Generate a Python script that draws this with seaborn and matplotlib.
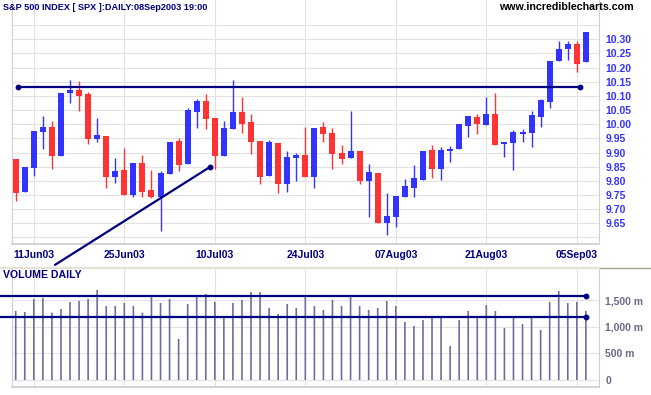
import numpy as np
import pandas as pd
import matplotlib
matplotlib.use("Agg")
import matplotlib.pyplot as plt
import seaborn as sns
from matplotlib.lines import Line2D

sns.set_style("white")
plt.rcParams['font.family'] = ['Liberation Sans', 'DejaVu Sans']

# daily OHLC (index / 100) and volume (millions), 09Jun03 - 08Sep03
opens = [9.877, 9.762, 9.847, 9.974, 9.989, 9.889, 10.109, 10.121, 10.107, 9.947,
         9.959, 9.815, 9.837, 9.751, 9.862, 9.767, 9.744, 9.824, 9.940, 9.860,
         10.043, 10.082, 10.022, 9.889, 9.984, 10.042, 10.008, 9.941, 9.818, 9.934,
         9.787, 9.880, 9.890, 9.815, 9.989, 9.968, 9.897, 9.880, 9.906, 9.801,
         9.828, 9.652, 9.671, 9.742, 9.776, 9.803, 9.909, 9.841, 9.904, 9.911,
         9.995, 10.027, 9.997, 10.035, 9.929, 9.935, 9.967, 9.968, 10.027, 10.080,
         10.222, 10.265, 10.284, 10.219]
closes = [9.758, 9.850, 9.976, 9.989, 9.886, 10.110, 10.121, 10.101, 9.947, 9.961,
          9.815, 9.836, 9.751, 9.864, 9.761, 9.744, 9.827, 9.937, 9.857, 10.050,
          10.083, 10.020, 9.886, 9.986, 10.042, 10.002, 9.938, 9.815, 9.938, 9.787,
          9.884, 9.891, 9.812, 9.986, 9.964, 9.893, 9.876, 9.907, 9.801, 9.830,
          9.652, 9.675, 9.748, 9.781, 9.809, 9.906, 9.841, 9.909, 9.911, 10.002,
          10.030, 10.002, 10.035, 9.928, 9.936, 9.971, 9.973, 10.032, 10.086, 10.224,
          10.267, 10.282, 10.214, 10.325]
highs = [9.877, 9.850, 9.976, 10.029, 10.013, 10.110, 10.156, 10.153, 10.114, 10.022,
         9.959, 9.881, 9.916, 9.864, 9.891, 9.838, 9.835, 9.937, 9.951, 10.056,
         10.089, 10.107, 10.022, 10.012, 10.156, 10.096, 10.036, 9.941, 9.944, 9.934,
         9.906, 9.900, 9.990, 9.986, 10.009, 9.988, 9.927, 10.048, 9.906, 9.860,
         9.828, 9.757, 9.748, 9.807, 9.856, 9.906, 9.927, 9.921, 9.923, 10.002,
         10.030, 10.036, 10.096, 10.110, 9.936, 9.980, 9.983, 10.045, 10.089, 10.224,
         10.294, 10.294, 10.294, 10.325]
lows = [9.727, 9.762, 9.818, 9.914, 9.843, 9.889, 10.074, 10.048, 9.931, 9.936,
        9.776, 9.794, 9.751, 9.742, 9.744, 9.741, 9.624, 9.824, 9.836, 9.860,
        9.988, 9.984, 9.841, 9.889, 9.984, 9.970, 9.896, 9.787, 9.818, 9.758,
        9.762, 9.801, 9.812, 9.776, 9.938, 9.843, 9.860, 9.880, 9.790, 9.671,
        9.652, 9.610, 9.638, 9.742, 9.744, 9.803, 9.811, 9.804, 9.868, 9.911,
        9.956, 9.967, 9.997, 9.928, 9.883, 9.837, 9.936, 9.918, 9.990, 10.059,
        10.222, 10.226, 10.186, 10.219]
volume = [1294, 1275, 1519, 1538, 1263, 1331, 1463, 1481, 1519, 1688,
          1388, 1388, 1444, 1388, 1263, 1575, 1444, 1519, 769, 1425,
          1575, 1613, 1463, 1200, 1444, 1500, 1650, 1650, 1350, 1238,
          1425, 1350, 1575, 1388, 1313, 1500, 1388, 1594, 1388, 1313,
          1350, 1481, 1388, 1088, 1013, 1125, 1200, 1181, 638, 1125,
          1294, 1200, 1406, 1294, 975, 1181, 1050, 1181, 938, 1463,
          1669, 1444, 1463, 1294]

tick_dates = ["2003-06-11", "2003-06-25", "2003-07-10", "2003-07-24",
              "2003-08-07", "2003-08-21", "2003-09-05"]
tick_labels = ["11Jun03", "25Jun03", "10Jul03", "24Jul03", "07Aug03", "21Aug03", "05Sep03"]
price_ticks = [9.65, 9.70, 9.75, 9.80, 9.85, 9.90, 9.95, 10.00,
               10.05, 10.10, 10.15, 10.20, 10.25, 10.30]
vol_ticks = [0, 500, 1000, 1500]
vol_tick_labels = ["0", "500 m", "1,000 m", "1,500 m"]

# drawn lines
resistance = 10.132
trend_x = [4.34, 21.47]
trend_y = [9.503, 9.849]
vol_levels = [1581, 1181]

dates = pd.bdate_range("2003-06-09", "2003-09-08")
dates = dates[~dates.isin(pd.to_datetime(["2003-07-04", "2003-09-01"]))]
df = pd.DataFrame({"date": dates, "open": opens, "high": highs, "low": lows,
                   "close": closes, "volume": volume})
df["i"] = np.arange(len(df))
tick_pos = [int(df.index[df["date"] == pd.Timestamp(d)][0]) for d in tick_dates]

BLUE = "#3333ff"
RED = "#ff3333"
NAVY = "#000080"
GRID = "#e2e2e2"
SPINE = "#d0d0d0"
VOLC = "#6b6b9e"

W, H = 651, 395
fig = plt.figure(figsize=(W / 100, H / 100), dpi=100)
fig.patch.set_facecolor("white")

# price panel
ax = fig.add_axes([12 / W, (H - 244) / H, 587 / W, 244 / H])
xlim = (-0.41, 64.45)
ax.set_xlim(*xlim)
ax.set_ylim(9.5767, 10.4389)

up = df["close"] >= df["open"]
colors = np.where(up, BLUE, RED)
ax.vlines(df["i"], df["low"], df["high"], colors=colors, lw=1.0, zorder=3)
body_lo = df[["open", "close"]].min(axis=1)
body_h = (df["close"] - df["open"]).abs().clip(lower=0.005)
ax.bar(df["i"], body_h, bottom=body_lo, width=0.66, color=colors, lw=0, zorder=4)

ax.plot([0.3, 62.4], [resistance, resistance], color=NAVY, lw=1.6,
        marker="o", ms=3.2, zorder=5)
ax.plot(trend_x, trend_y, color=NAVY, lw=1.6, zorder=5, clip_on=False)
ax.plot(trend_x[1], trend_y[1], "o", color=NAVY, ms=3.2, zorder=5)

grid_y = [9.60] + price_ticks + [10.35]
ax.set_yticks(grid_y)
ax.set_yticklabels([""] + [f"{v:.2f}" for v in price_ticks] + [""])
ax.set_xticks(tick_pos)
ax.set_xticklabels(tick_labels)
ax.yaxis.tick_right()
ax.grid(True, color=GRID, lw=0.8)
ax.set_axisbelow(True)
ax.tick_params(axis="y", length=0, pad=4.5, labelsize=7.5, labelcolor=BLUE)
ax.tick_params(axis="x", length=0, pad=4.5, labelsize=7.5, labelcolor=NAVY)
for lab in ax.get_xticklabels() + ax.get_yticklabels():
    lab.set_fontweight("bold")
ax.spines["top"].set_visible(False)
for s in ["left", "right"]:
    ax.spines[s].set_color(SPINE)
    ax.spines[s].set_linewidth(0.8)
ax.spines["bottom"].set_color(SPINE)
ax.spines["bottom"].set_linewidth(1.3)

# volume panel
ax2 = fig.add_axes([12 / W, 8.3 / H, 587 / W, 118.7 / H])
sns.barplot(data=df, x="i", y="volume", native_scale=True, width=0.18,
            color=VOLC, saturation=1, errorbar=None, linewidth=0, ax=ax2)
for p in ax2.patches:
    p.set_snap(False)
ax2.set_xlim(*xlim)
ax2.set_ylim(-125.6, 2100)
for lvl in vol_levels:
    ax2.plot([-1.74, 63], [lvl, lvl], color=NAVY, lw=1.6, zorder=5, clip_on=False)
    ax2.plot(63, lvl, "o", color=NAVY, ms=3.2, zorder=5)
ax2.set_xticks(tick_pos)
ax2.set_xticklabels([])
ax2.set_xlabel("")
ax2.set_ylabel("")
ax2.set_yticks(vol_ticks)
ax2.set_yticklabels(vol_tick_labels)
ax2.yaxis.tick_right()
ax2.grid(True, color=GRID, lw=0.8)
ax2.set_axisbelow(True)
ax2.tick_params(axis="both", length=0, pad=4.5, labelsize=7.5, labelcolor="#6a6a88")
for lab in ax2.get_yticklabels():
    lab.set_fontweight("bold")
ax2.spines["top"].set_visible(False)
for s in ["left", "right"]:
    ax2.spines[s].set_color(SPINE)
    ax2.spines[s].set_linewidth(0.8)
ax2.spines["bottom"].set_color(SPINE)
ax2.spines["bottom"].set_linewidth(1.3)

# panel separator
ysep = (H - 267.5) / H
fig.add_artist(Line2D([0, 600 / W], [ysep, ysep], color="#e4e2d6", lw=1.6))
fig.add_artist(Line2D([600 / W, 1], [ysep, ysep], color="#a8a48c", lw=1.0))

# header texts
fig.text(3 / W, 1 - 7.5 / H, "S&P 500 INDEX [ SPX ]:DAILY:08Sep2003 19:00",
         color=NAVY, fontsize=6.6, fontweight="bold", va="center", ha="left")
fig.text(499 / W, 1 - 7.5 / H, "www.incrediblecharts.com",
         color="black", fontsize=7.7, fontweight="bold", va="center", ha="left")
fig.text(3 / W, 1 - 275.5 / H, "VOLUME DAILY",
         color=NAVY, fontsize=7.6, fontweight="bold", va="center", ha="left")

fig.savefig("out.png", dpi=100)
